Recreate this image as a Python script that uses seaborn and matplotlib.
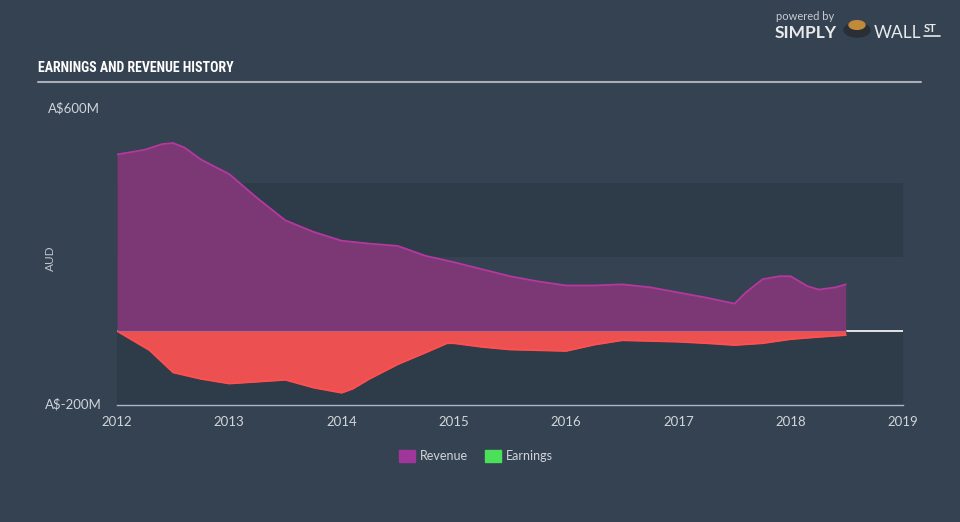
import numpy as np
import pandas as pd
import matplotlib
matplotlib.use("Agg")
import matplotlib.pyplot as plt
import seaborn as sns
from matplotlib.patches import Rectangle, Circle
from matplotlib import font_manager as fm

# ---- data (A$ millions) ----
rev_years = [2012.0, 2012.25, 2012.4, 2012.5, 2012.6, 2012.75, 2013.0, 2013.25, 2013.5, 2013.75,
             2014.0, 2014.25, 2014.5, 2014.75, 2015.0, 2015.25, 2015.5, 2015.75, 2016.0,
             2016.25, 2016.5, 2016.75, 2017.0, 2017.25, 2017.5, 2017.6, 2017.75, 2017.9,
             2018.0, 2018.15, 2018.25, 2018.4, 2018.49]
revenue = [477, 490, 505, 508, 496, 463, 424, 359, 299, 268,
           244, 236, 230, 203, 186, 167, 148, 134, 123,
           123, 126, 118, 104, 90, 74, 104, 140, 148,
           148, 121, 112, 118, 126]

earn_years = [2012.0, 2012.29, 2012.5, 2012.74, 2013.0, 2013.25, 2013.5, 2013.75, 2014.0,
              2014.1, 2014.25, 2014.5, 2014.75, 2014.94, 2015.0, 2015.25, 2015.5, 2015.75,
              2016.0, 2016.25, 2016.5, 2016.75, 2017.0, 2017.25, 2017.5, 2017.75, 2018.0,
              2018.25, 2018.49]
earnings = [0, -52, -112, -129, -142, -137, -132, -153, -167,
            -156, -129, -90, -58, -33, -33, -43, -50, -52,
            -54, -37, -25, -27, -29, -33, -38, -33, -22,
            -16, -11]

x_ticks = [2012, 2013, 2014, 2015, 2016, 2017, 2018, 2019]
y_labels = ["A$600M", "A$-200M"]

rev_df = pd.DataFrame({"year": rev_years, "value": revenue})
earn_df = pd.DataFrame({"year": earn_years, "value": earnings})

BG = "#344251"
BAND = "#2e3b49"
REV_FILL = "#7b3875"
REV_LINE = "#b5389f"
EARN_FILL = "#ec5050"
EARN_LINE = "#ff5050"
TXT = "#d0d5da"

sns.set_theme(style="white")
plt.rcParams["font.family"] = ["Lato", "DejaVu Sans"]

names = {f.name for f in fm.fontManager.ttflist}
title_family = None
for cand in ["Liberation Sans Narrow", "DejaVu Sans Condensed", "Roboto Condensed",
             "Open Sans Condensed"]:
    if cand in names:
        title_family = cand
        break

fig = plt.figure(figsize=(9.6, 5.22), dpi=100, facecolor=BG)
W, H = 960, 522
L, R, T, B = 117, 903, 109, 405
ax = fig.add_axes([L / W, 1 - B / H, (R - L) / W, (B - T) / H])
ax.set_facecolor(BG)
ax.set_xlim(2012, 2019)
ax.set_ylim(-200, 600)

# bands
ax.axhspan(200, 400, color=BAND, zorder=0, lw=0)
ax.axhspan(-200, 0, color=BAND, zorder=0, lw=0)
ax.axhline(0, color="white", lw=1.2, zorder=1)

ax.fill_between(rev_df["year"], 0, rev_df["value"], color=REV_FILL, lw=0, zorder=2)
ax.fill_between(earn_df["year"], 0, earn_df["value"], color=EARN_FILL, lw=0, zorder=2)
sns.lineplot(data=rev_df, x="year", y="value", ax=ax, color=REV_LINE, lw=1.3, zorder=3)
sns.lineplot(data=earn_df, x="year", y="value", ax=ax, color=EARN_LINE, lw=1.3, zorder=3)
ax.plot([2012, 2018.49], [0, 0], color="#c0607a", lw=0.8, zorder=3)

for s in ["top", "right", "left"]:
    ax.spines[s].set_visible(False)
ax.spines["bottom"].set_color("#a8b8c8")
ax.spines["bottom"].set_linewidth(1)
ax.set_xticks(x_ticks)
ax.set_xticklabels([str(t) for t in x_ticks])
ax.tick_params(axis="x", colors="#a8b8c8", length=6, width=1, direction="out",
               labelcolor=TXT, labelsize=9.5, pad=2)
ax.set_yticks([])
ax.set_xlabel("")
ax.set_ylabel("")

# y labels
fig.text(48 / W, 1 - 108 / H, y_labels[0], color=TXT, fontsize=9.5, va="center", ha="left")
fig.text(45 / W, 1 - 404 / H, y_labels[1], color=TXT, fontsize=9.5, va="center", ha="left")
fig.text(50 / W, 1 - 258 / H, "AUD", color="#c0c6cc", fontsize=8.5, rotation=90,
         va="center", ha="center")

# title
if title_family:
    fig.text(38 / W, 1 - 68 / H, "EARNINGS AND REVENUE HISTORY", color="white", fontsize=10,
             fontweight="bold", va="center", ha="left", family=[title_family, "DejaVu Sans"])
else:
    fig.text(38 / W, 1 - 68 / H, "EARNINGS AND REVENUE HISTORY", color="white", fontsize=8.5,
             fontweight="bold", va="center", ha="left", family=["DejaVu Sans"])
fig.add_artist(plt.Line2D([38 / W, 921 / W], [1 - 82 / H, 1 - 82 / H], color="#a9afb5", lw=1.5))

# legend
fig.add_artist(Rectangle((399 / W, 1 - 462 / H), 16 / W, 12 / H, color="#a0359a", transform=fig.transFigure))
fig.text(420 / W, 1 - 456 / H, "Revenue", color=TXT, fontsize=9, va="center", ha="left")
fig.add_artist(Rectangle((485 / W, 1 - 462 / H), 16 / W, 12 / H, color="#4ce05a", transform=fig.transFigure))
fig.text(506 / W, 1 - 456 / H, "Earnings", color=TXT, fontsize=9, va="center", ha="left")

# logo
fig.text(776 / W, 1 - 17 / H, "powered by", color="#c8ccd0", fontsize=8, va="center", ha="left")
fig.text(775 / W, 1 - 33 / H, "SIMPLY", color="#e8eaec", fontsize=12.5, fontweight="bold",
         va="center", ha="left")
fig.add_artist(Circle((857 / W, 1 - 30 / H), 13 / W, color="#2a2f36", transform=fig.transFigure))
fig.add_artist(Circle((857 / W, 1 - 25 / H), 8 / W, color="#c08a3a", transform=fig.transFigure))
fig.text(874 / W, 1 - 33 / H, "WALL", color="#e8eaec", fontsize=12.5, va="center", ha="left")
fig.text(924 / W, 1 - 29 / H, "ST", color="#e8eaec", fontsize=8, fontweight="bold", va="center", ha="left")
fig.add_artist(plt.Line2D([924 / W, 940 / W], [1 - 36 / H, 1 - 36 / H], color="#e8eaec", lw=1.2))

fig.savefig("out.png", dpi=100, facecolor=BG)
